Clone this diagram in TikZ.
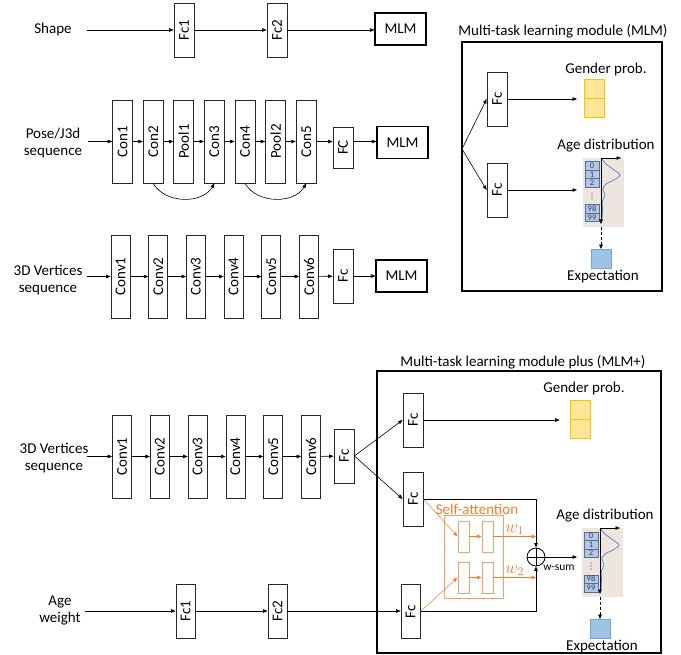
\documentclass[tikz,border=0pt]{standalone}
\usepackage{amsmath,amssymb}
\usepackage{fontspec}
\setmainfont{Carlito}
\usetikzlibrary{calc,arrows.meta,positioning}
\definecolor{attnorange}{RGB}{237,125,49}
\definecolor{attnlight}{RGB}{243,160,105}
\definecolor{probfill}{RGB}{255,230,153}
\definecolor{probdraw}{RGB}{255,192,0}
\definecolor{histbg}{RGB}{237,229,222}
\definecolor{cellfill}{RGB}{180,199,231}
\definecolor{celldraw}{RGB}{84,110,150}
\definecolor{curveblue}{RGB}{68,114,196}
\definecolor{expfill}{RGB}{157,195,230}
\definecolor{expdraw}{RGB}{110,165,220}
\tikzset{
  nlayer/.style={rectangle, draw=black!85, line width=0.8pt, fill=white, inner sep=0pt,
                 minimum width=20pt, minimum height=83pt},
  nfc/.style   ={nlayer, minimum height=54pt},
  nmlm/.style  ={rectangle, draw=black, line width=1.1pt, inner sep=0pt,
                 minimum width=51pt, minimum height=32pt},
  npanel/.style={rectangle, draw=black, line width=1.1pt, inner sep=0pt},
  nlabel/.style={align=center, inner sep=0pt},
  ndir/.style  ={-{Triangle[length=4.5pt,width=3.5pt]}, line width=0.6pt},
  nline/.style ={line width=0.8pt},
  sabox/.style ={rectangle, draw=attnlight, line width=0.9pt, inner sep=0pt},
  sacell/.style={sabox, minimum width=11pt, minimum height=31pt},
  sadir/.style ={ndir, attnorange, line width=0.5pt},
  probcell/.style={rectangle, draw=probdraw, fill=probfill, line width=0.8pt,
                   minimum width=20pt, minimum height=19pt, inner sep=0pt},
  agecell/.style={rectangle, draw=celldraw, fill=cellfill, line width=0.5pt,
                  minimum width=14pt, minimum height=8.5pt, inner sep=0pt,
                  font=\fontsize{8.5}{8.5}\selectfont, text=celldraw!60!black},
  expbox/.style={rectangle, draw=expdraw, fill=expfill, line width=0.8pt,
                 minimum width=20pt, minimum height=19pt, inner sep=0pt},
  agedist/.pic={
    \node[rectangle, fill=histbg, minimum width=41pt, minimum height=69pt, inner sep=0pt,
          anchor=north west] (-box) at (0,0) {};
    \foreach \v/\y in {0/8,1/16.5,2/25,98/51,99/59.5}
      \node[agecell] (-c\v) at (9,\y) {\v};
    \foreach \y in {35,38,41}
      \fill[celldraw!60!black] (9,\y) circle (0.55pt);
    \draw[curveblue, line width=0.6pt] plot[smooth] coordinates
      {(19,1) (23,6) (31,12) (37,17) (31,22) (23,26) (20,31) (22,37) (19.5,43) (19.5,52) (19,62)};
    \draw[ndir, line width=0.5pt] (18,0) -- (18,66);
    \draw[ndir, line width=0.5pt] (18,0) -- (38,0);
    \node[expbox] (-exp) at (18,101) {};
    \draw[ndir, dash pattern=on 3pt off 2pt] (-box.south -| -exp) -- (-exp.north);
    \node (-explab) at (20,119) {Expectation};
    \node (-title) at (23,-12) {Age distribution};
  }
}

\begin{document}
\begin{tikzpicture}[x=1pt, y=-1pt, every node/.style={font=\fontsize{15}{17}\selectfont}]
  \useasboundingbox (0,0) rectangle (681,655);

  % shape branch
  \node[nlabel] (shape) at (53,30) {Shape};
  \node[nfc] (sfc1) at (184,30) {\rotatebox{90}{Fc1}};
  \node[nfc] (sfc2) at (277,30) {\rotatebox{90}{Fc2}};
  \node[nmlm] (smlm) at (400.5,29) {MLM};
  \draw[ndir, shorten <=15pt] (shape) -- (sfc1);
  \draw[ndir] (sfc1) -- (sfc2);
  \draw[ndir] (sfc2.east) -- (sfc2.east -| smlm.west);

  % pose branch
  \node[nlabel] (pose) at (53,143.5) {Pose/J3d\\sequence};
  \foreach \lab [count=\i] in {Con1,Con2,Pool1,Con3,Con4,Pool2,Con5}
    \node[nlayer] (p\i) at ({92+30.6*\i},141.5) {\rotatebox{90}{\lab}};
  \foreach \i [evaluate=\i as \j using int(\i+1)] in {1,...,6}
    \draw[ndir] (p\i) -- (p\j);
  \node[nlayer, minimum height=41pt] (pfc) at (343,147.5) {\rotatebox{90}{FC}};
  \node[nmlm] (pmlm) at (402.5,142.5) {MLM};
  \draw[ndir, shorten <=6pt] (pose.east |- p1) -- (p1.west);
  \draw[ndir] (p7.east) -- (p7.east -| pfc.west);
  \draw[ndir] (pfc.east |- p7) -- (pmlm.west |- p7);
  \draw[ndir] (p2.south) to[bend right=60] (p4.south);
  \draw[ndir] (p5.south) to[bend right=60] (p7.south);

  % vertices branch
  \node[nlabel] (vert) at (48,280) {3D Vertices\\sequence};
  \foreach \i in {1,...,6}
    \node[nlayer, minimum width=19pt] (v\i) at ({82.8+37.7*\i},276.5) {\rotatebox{90}{Conv\i}};
  \foreach \i [evaluate=\i as \j using int(\i+1)] in {1,...,5}
    \draw[ndir] (v\i) -- (v\j);
  \node[nfc] (vfc) at (343,276) {\rotatebox{90}{Fc}};
  \node[nmlm] (vmlm) at (401.5,276) {MLM};
  \draw[ndir, shorten <=4pt] (vert.east |- v1) -- (v1.west);
  \draw[ndir] (v6) -- (vfc);
  \draw[ndir] (vfc) -- (vmlm);

  % multi-task learning module
  \node[npanel, minimum width=200pt, minimum height=249pt] (mlm) at (562,166.5) {};
  \node (mlmtitle) at (563,31) {Multi-task learning module (MLM)};
  \coordinate (split) at (462,149);
  \node[nfc] (fca) at (497,99) {\rotatebox{90}{Fc}};
  \node[nfc] (fcb) at (497,190) {\rotatebox{90}{Fc}};
  \draw[ndir] (split) -- (fca.west);
  \draw[ndir] (split) -- (fcb.west);
  \node[probcell] (ga1) at (594.5,88.5) {};
  \node[probcell] (ga2) at (594.5,108) {};
  \node (gatitle) at (606,70) {Gender prob.};
  \draw[ndir, shorten >=7pt] (fca.east) -- (fca.east -| ga1.west);
  \pic (agea) at (583,158) {agedist};
  \draw[ndir, shorten >=6pt] (fcb.east) -- (fcb.east -| agea-box.west);

  % lower branch
  \node[nlabel] (bvert) at (54,458.5) {3D Vertices\\sequence};
  \foreach \i in {1,...,6}
    \node[nlayer, minimum width=19pt] (b\i) at ({84.2+37.8*\i},456.5) {\rotatebox{90}{Conv\i}};
  \foreach \i [evaluate=\i as \j using int(\i+1)] in {1,...,5}
    \draw[ndir] (b\i) -- (b\j);
  \node[nfc] (bfc) at (344,456) {\rotatebox{90}{Fc}};
  \draw[ndir, shorten <=-2pt] (bvert.east |- b1) -- (b1.west);
  \draw[ndir] (b6) -- (bfc);

  \node[nlabel] (agew) at (60,610.5) {Age\\weight};
  \node[nfc, minimum width=19pt] (afc1) at (185.5,611) {\rotatebox{90}{Fc1}};
  \node[nfc, minimum width=19pt] (afc2) at (277.5,611) {\rotatebox{90}{Fc2}};
  \draw[ndir, shorten <=4pt] (agew.east |- afc1) -- (afc1.west);
  \draw[ndir] (afc1) -- (afc2);

  % multi-task learning module plus
  \node[npanel, minimum width=284pt, minimum height=282pt] (mlmp) at (519,512) {};
  \node (mlmptitle) at (523,362) {Multi-task learning module plus (MLM+)};
  \node[nfc] (pfcg) at (413,420) {\rotatebox{90}{Fc}};
  \node[nfc] (pfca) at (413,499) {\rotatebox{90}{Fc}};
  \node[nfc, minimum width=19pt] (pfcw) at (410.5,611.5) {\rotatebox{90}{Fc}};
  \draw[ndir] (bfc.east) -- (pfcg.west);
  \draw[ndir] (bfc.east) -- (pfca.west);
  \draw[ndir] (afc2.east) -- (afc2.east -| pfcw.west);

  \node[probcell] (gb1) at (580,409.5) {};
  \node[probcell] (gb2) at (580,428.5) {};
  \node (gbtitle) at (584,389) {Gender prob.};
  \draw[ndir, shorten >=10pt] (pfcg.east) -- (pfcg.east -| gb1.west);

  \node[circle, draw, line width=0.8pt, minimum size=18pt, inner sep=0pt,
        path picture={\draw[line width=0.8pt] (path picture bounding box.north) -- (path picture bounding box.south)
                      (path picture bounding box.west) -- (path picture bounding box.east);}] (wsum) at (536,557) {};
  \node[font=\fontsize{11.5}{13}\selectfont] (wsumlab) at (559,568) {w-sum};
  \draw[ndir, nline] (pfca.east) -| (wsum.north);
  \draw[ndir, nline] (pfcw.east) -| (wsum.south);

  \node[sabox, minimum width=59pt, minimum height=83pt] (sa) at (473.5,556.5) {};
  \node[text=attnorange] (salab) at (477,509) {Self-attention};
  \foreach \r/\y in {1/536.5,2/577.5} {
    \node[sacell] (sa\r-a) at (463.5,\y) {};
    \node[sacell] (sa\r-b) at (487.5,\y) {};
    \draw[sadir] (sa\r-a) -- (sa\r-b);
    \draw[sadir] (sa\r-b.east) -- (sa\r-b.east -| wsum)
      node[midway, above=-2pt, text=attnorange, font=\fontsize{17}{17}\selectfont] (w\r) {$w_{\r}$};
  }
  \draw[sadir] (pfca.east) -- (sa1-a.west);
  \draw[sadir] (pfcw.east) -- (sa2-a.west);

  \pic (ageb) at (582,528) {agedist};
  \draw[ndir, shorten >=5pt] (wsum.east) -- (wsum.east -| ageb-box.west);
\end{tikzpicture}
\end{document}
